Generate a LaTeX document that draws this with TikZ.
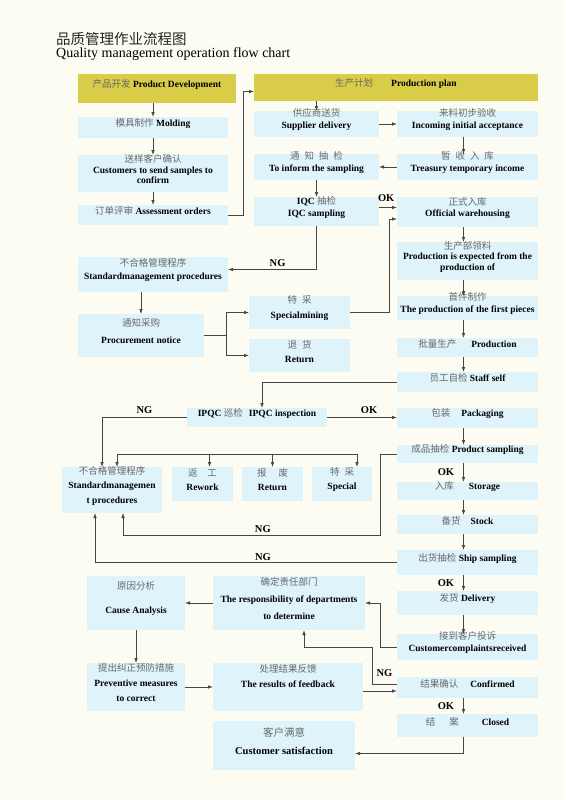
\documentclass[tikz,border=0pt]{standalone}
\usepackage{fontspec}
\setmainfont{Liberation Serif}
\newfontfamily\cjk{Noto Sans CJK SC}
\usetikzlibrary{arrows.meta,fit}
\definecolor{paper}{RGB}{253,252,242}
\definecolor{boxblue}{RGB}{222,243,250}
\definecolor{headyellow}{RGB}{217,204,72}
\definecolor{linegray}{RGB}{70,70,70}
\definecolor{zhgray}{RGB}{105,105,105}
\newcommand{\zh}[1]{{\cjk\mdseries\color{zhgray}#1}}

\begin{document}
\begin{tikzpicture}[x=1pt, y=-1pt,
    box/.style={fill=boxblue, inner sep=0pt, outer sep=0pt, align=center,
      font=\bfseries\fontsize{9.5}{12}\selectfont},
    hdr/.style={box, fill=headyellow},
    arr/.style={draw=linegray, line width=0.8pt, -{Latex[length=5pt,width=3.6pt]}},
    wire/.style={draw=linegray, line width=0.8pt},
    lbl/.style={font=\bfseries\fontsize{10.5}{12}\selectfont, inner sep=1pt}]
    % Fondo
    \fill[paper] (0,0) rectangle (565,800);
    \useasboundingbox (0,0) rectangle (565,800);

    % Título
    \node[anchor=west, inner sep=0pt, font=\cjk\fontsize{14.5}{16}\selectfont, text=black!85] (titlezh) at (56,39) {品质管理作业流程图};
    \node[anchor=base west, inner sep=0pt, font=\fontsize{14}{16}\selectfont] (titleen) at (56,57) {Quality management operation flow chart};

    % Desarrollo de producto
    \node[hdr, fit={(78,74)(236,103)}] (dev) {\zh{产品开发} Product Development};
    \node[box, fit={(78,117)(228,138)}] (molding) {\zh{模具制作} Molding};
    \node[box, fit={(78,155)(228,192)}] (samples) {\zh{送样客户确认}\\[-1.5pt]Customers to send samples to\\[-1.5pt]confirm};
    \node[box, fit={(78,205)(228,225)}] (assess) {\zh{订单评审} Assessment orders};

    % Plan de producción
    \node[hdr, fit={(254,74)(538,101)}] (plan) {\zh{生产计划}\hspace{18pt}Production plan};
    \node[box, fit={(254,111)(379,137)}] (supplier) {\zh{供应商送货}\\Supplier delivery};
    \node[box, fit={(397,111)(538,137)}] (incoming) {\zh{来料初步验收}\\Incoming initial acceptance};
    \node[box, fit={(254,154)(379,180)}] (inform) {\zh{通\hspace{5pt}知\hspace{5pt}抽\hspace{5pt}检}\\To inform the sampling};
    \node[box, fit={(397,154)(538,180)}] (treasury) {\zh{暂\hspace{5pt}收\hspace{5pt}入\hspace{5pt}库}\\Treasury temporary income};
    \node[box, fit={(254,197)(379,226)}] (iqc) {IQC \zh{抽检}\\IQC sampling};
    \node[box, fit={(397,197)(538,227)}] (official) {\zh{正式入库}\\[-1pt]Official warehousing};

    % No conformes (IQC)
    \node[box, fit={(78,257)(228,292)}] (std1) {\zh{不合格管理程序}\\[1pt]Standardmanagement procedures};
    \node[box, fit={(78,314)(204,357)}] (procure) {\zh{通知采购}\\[5pt]Procurement notice};
    \node[box, fit={(249,296)(350,329)}] (special1) {\zh{特\hspace{5pt}采}\\[3pt]Specialmining};
    \node[box, fit={(249,339)(350,372)}] (return1) {\zh{退\hspace{5pt}货}\\[2pt]Return};

    % Producción
    \node[box, fit={(397,242)(538,280)}] (expected) {\zh{生产部领料}\\[-1.5pt]Production is expected from the\\[-1.5pt]production of};
    \node[box, fit={(397,296)(538,320)}] (first) {\zh{首件制作}\\The production of the first pieces};
    \node[box, fit={(397,338)(538,357)}] (prod) {\zh{批量生产}\hspace{15pt}Production};
    \node[box, fit={(397,372)(538,392)}] (staff) {\zh{员工自检} Staff self};
    \node[box, fit={(187,408)(327,427)}] (ipqc) {IPQC \zh{巡检}\hspace{6pt}IPQC inspection};
    \node[box, fit={(397,408)(538,428)}] (pack) {\zh{包装}\hspace{11pt}Packaging};
    \node[box, fit={(397,445)(538,463)}] (psample) {\zh{成品抽检} Product sampling};
    \node[box, fit={(397,482)(538,500)}] (storage) {\zh{入库}\hspace{15pt}Storage};
    \node[box, fit={(397,515)(538,534)}] (stock) {\zh{备货}\hspace{10pt}Stock};
    \node[box, fit={(397,550)(538,575)}] (ship) {\zh{出货抽检} Ship sampling};

    % No conformes (IPQC)
    \node[box, fit={(62,467)(162,513)}] (std2) {\zh{不合格管理程序}\\[2.5pt]Standardmanagemen\\[2.5pt]t procedures};
    \node[box, fit={(172,467)(233,501)}] (rework) {\zh{返\hspace{10pt}工}\\[2pt]Rework};
    \node[box, fit={(242,467)(303,501)}] (return2) {\zh{报\hspace{12pt}废}\\[2pt]Return};
    \node[box, fit={(312,467)(372,501)}] (special2) {\zh{特\hspace{5pt}采}\\[2pt]Special};

    % Entrega y reclamaciones
    \node[box, fit={(397,591)(538,615)}] (delivery) {\zh{发货} Delivery};
    \node[box, fit={(397,634)(538,660)}] (complaint) {\zh{接到客户投诉}\\Customercomplaintsreceived};
    \node[box, fit={(397,677)(538,698)}] (confirmed) {\zh{结果确认}\hspace{12pt}Confirmed};
    \node[box, fit={(397,714)(538,737)}] (closed) {\zh{结\hspace{14pt}案}\hspace{23pt}Closed};
    \node[box, fit={(87,576)(185,630)}] (cause) {\zh{原因分析}\\[12pt]Cause Analysis};
    \node[box, fit={(213,576)(365,630)}] (resp) {\zh{确定责任部门}\\[5pt]The responsibility of departments\\[5pt]to determine};
    \node[box, fit={(87,663)(185,711)}] (prevent) {\zh{提出纠正预防措施}\\[3pt]Preventive measures\\[3pt]to correct};
    \node[box, fit={(213,663)(363,711)}] (feedback) {\zh{处理结果反馈}\\[3pt]The results of feedback\\[3pt]\mbox{}};
    \node[box, fit={(213,721)(355,770)}, font=\bfseries\fontsize{10.5}{13}\selectfont] (satisf) {\zh{客户满意}\\[5pt]Customer satisfaction};

    % Flechas: desarrollo
    \draw[arr] (molding.north |- dev.south) -- (molding.north);
    \draw[arr] (samples.north |- molding.south) -- (samples.north);
    \draw[arr] (assess.north |- samples.south) -- (assess.north);
    \draw[arr] (assess.east) -- ++(15,0) |- ([yshift=-4pt]plan.west);

    % Flechas: compras e IQC
    \draw[arr] (supplier.north |- plan.south) -- (supplier.north);
    \draw[arr] (supplier) -- (incoming);
    \draw[arr] ([xshift=-4pt]incoming.south) -- ([xshift=-4pt]treasury.north);
    \draw[arr] (treasury) -- (inform);
    \draw[arr] (inform) -- (iqc);
    \draw[arr] ([yshift=4pt]iqc.east) -- ([yshift=4pt]iqc.east -| official.west) node[pos=0.4, above=4pt, lbl] {OK};
    \draw[arr] (iqc.south) |- ([yshift=5pt]std1.east) node[pos=0.72, above=1pt, lbl] {NG};
    \draw[arr] (procure.north |- std1.south) -- (procure.north);
    \draw[wire] (procure.east) -- ++(22,0) coordinate (fork);
    \draw[arr] (fork) |- (special1.west);
    \draw[arr] (fork) |- (return1.west);
    \draw[arr] (special1.east) -- ++(39,0) |- ([yshift=-7pt]official.west);

    % Flechas: producción
    \foreach \a/\b in {official/expected, expected/first, first/prod, prod/staff,
                       pack/psample, storage/stock, stock/ship, delivery/complaint}
        \draw[arr] ([xshift=-4pt]\a.south) -- ([xshift=-4pt]\b.north);
    \foreach \a/\b in {psample/storage, ship/delivery, confirmed/closed}
        \draw[arr] ([xshift=-4pt]\a.south) -- ([xshift=-4pt]\b.north) node[midway, left=8pt, lbl] {OK};
    \draw[arr] (staff.west) -| ([xshift=5pt]ipqc.north);
    \draw[arr] (ipqc.east) -- (ipqc.east -| pack.west) node[pos=0.6, above=3pt, lbl] {OK};
    \draw[arr] (ipqc.west) -| ([xshift=-10pt]std2.north) node[pos=0.25, above=3pt, lbl] {NG};

    % Barra de tratamiento
    \coordinate (barL) at (117,454);
    \coordinate (barR) at (357,454);
    \draw[wire] (barL) -- (barR);
    \draw[arr] (barL) -- (barL |- std2.north);
    \draw[arr] ([xshift=7pt]rework.north |- barL) -- ([xshift=7pt]rework.north);
    \draw[arr] (return2.north |- barL) -- (return2.north);
    \draw[arr] (barR) -- (barR |- special2.north);

    % Retornos NG
    \draw[arr] (psample.west) -- ++(-17,0) -- ++(0,81) -| ([xshift=11pt]std2.south) node[pos=0.228, above=1pt, lbl] {NG};
    \draw[arr] (ship.west) -| ([xshift=-17pt]std2.south) node[pos=0.222, above=1pt, lbl] {NG};

    % Reclamaciones
    \draw[arr] (complaint.west) -- ++(-17,0) |- (resp.east);
    \draw[arr] (resp) -- (cause);
    \draw[arr] (cause) -- (prevent);
    \draw[arr] (prevent) -- (feedback);
    \draw[arr] ([yshift=-4pt]feedback.east) -- ([yshift=-4pt]feedback.east -| confirmed.west);
    \draw[arr] ([yshift=3pt]confirmed.west) -- ++(-25,0) node[midway, above=7pt, lbl] {NG} -- ++(0,-37) -| ([xshift=15pt]resp.south);
    \draw[arr] ([xshift=-4pt]closed.south) |- ([yshift=-8pt]satisf.east);
\end{tikzpicture}
\end{document}
